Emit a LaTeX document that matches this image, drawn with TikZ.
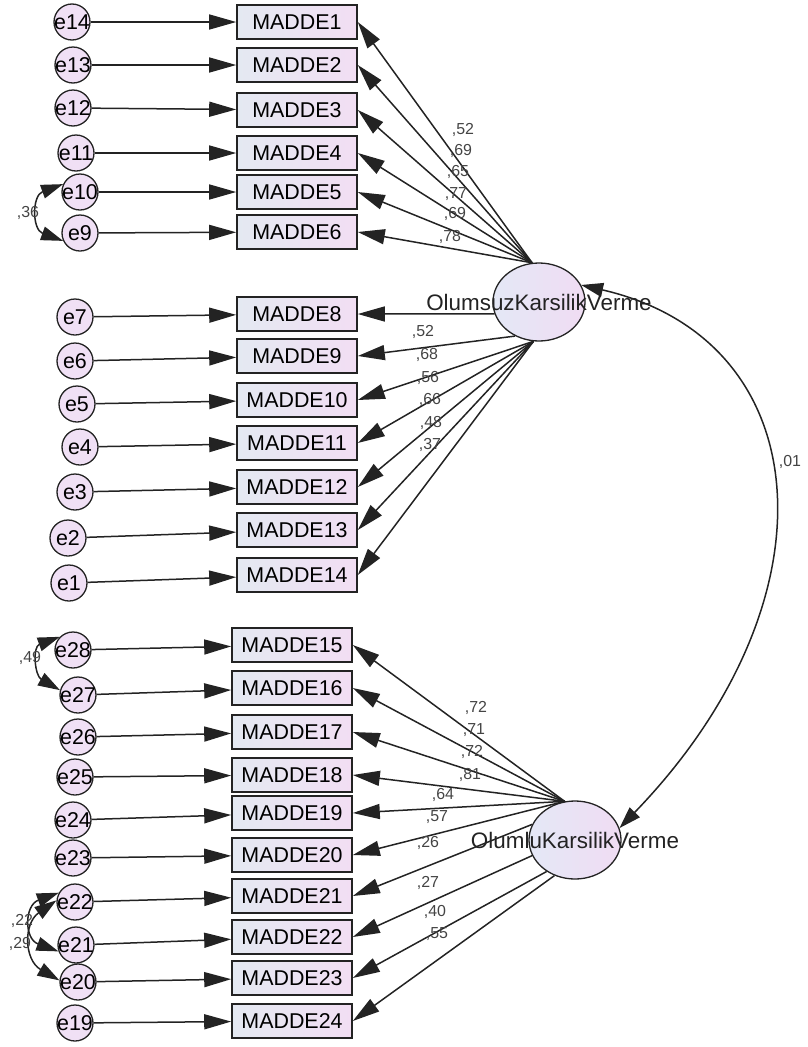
\documentclass[tikz,border=0pt]{standalone}
\usepackage{fontspec}
\setmainfont{Liberation Sans}
\usepackage{xcolor}
\usetikzlibrary{arrows.meta}
\usetikzlibrary{shapes.geometric}
\usetikzlibrary{positioning}

\definecolor{obsL}{RGB}{228,233,242}
\definecolor{obsR}{RGB}{242,222,243}
\definecolor{errC}{RGB}{240,224,245}
\definecolor{latL}{RGB}{228,232,246}
\definecolor{latR}{RGB}{240,220,243}
\definecolor{ink}{RGB}{35,35,35}

\begin{document}
\begin{tikzpicture}[x=1bp,y=-1bp,
    obs/.style={draw=ink,line width=1.6bp,minimum width=120bp,minimum height=34bp,inner sep=0pt,left color=obsL,right color=obsR,font=\fontsize{21.5}{22}\selectfont},
    err/.style={circle,draw=ink,line width=1.3bp,minimum size=36bp,inner sep=-7bp,fill=errC,font=\fontsize{21.5}{22}\selectfont},
    latent/.style={ellipse,draw=ink,line width=1.3bp,minimum width=92bp,minimum height=78bp,inner sep=0pt,left color=latL,right color=latR},
    fac/.style={font=\fontsize{22.5}{23}\selectfont,text=ink},
    load/.style={-{Triangle[length=27bp,width=15bp]},line width=1.5bp,draw=ink},
    cov/.style={{Triangle[length=22bp,width=14bp]}-{Triangle[length=22bp,width=14bp]},line width=1.5bp,draw=ink},
    est/.style={font=\fontsize{16}{17}\selectfont,text=ink!85}]
    \useasboundingbox (0,0) rectangle (808,1047);

    \node[latent] (L1) at (539,302) {};
    \node[latent] (L2) at (575,840) {};

    \node[obs] (M1) at (297,22) {MADDE1};
    \node[obs] (M2) at (297,65) {MADDE2};
    \node[obs] (M3) at (297,110) {MADDE3};
    \node[obs] (M4) at (297,153) {MADDE4};
    \node[obs] (M5) at (297,192) {MADDE5};
    \node[obs] (M6) at (297,232) {MADDE6};

    \node[err] (e14) at (72,22) {e14};
    \node[err] (e13) at (73,65) {e13};
    \node[err] (e12) at (73,108) {e12};
    \node[err] (e11) at (76,153) {e11};
    \node[err] (e10) at (80,192) {e10};
    \node[err] (e9) at (80,233) {e9};

    \node[obs] (M8) at (297,314) {MADDE8};
    \node[obs] (M9) at (297,356) {MADDE9};
    \node[obs] (M10) at (297,400) {MADDE10};
    \node[obs] (M11) at (297,443) {MADDE11};
    \node[obs] (M12) at (297,487) {MADDE12};
    \node[obs] (M13) at (297,530) {MADDE13};
    \node[obs] (M14) at (297,575) {MADDE14};

    \node[err] (e7) at (75,317) {e7};
    \node[err] (e6) at (75,361) {e6};
    \node[err] (e5) at (77,404) {e5};
    \node[err] (e4) at (80,447) {e4};
    \node[err] (e3) at (75,492) {e3};
    \node[err] (e2) at (68,538) {e2};
    \node[err] (e1) at (69,583) {e1};

    \node[obs] (M15) at (292,645) {MADDE15};
    \node[obs] (M16) at (292,688) {MADDE16};
    \node[obs] (M17) at (292,732) {MADDE17};
    \node[obs] (M18) at (292,775) {MADDE18};
    \node[obs] (M19) at (292,813) {MADDE19};
    \node[obs] (M20) at (292,855) {MADDE20};
    \node[obs] (M21) at (292,896) {MADDE21};
    \node[obs] (M22) at (292,937) {MADDE22};
    \node[obs] (M23) at (292,978) {MADDE23};
    \node[obs] (M24) at (292,1021) {MADDE24};

    \node[err] (e28) at (73,650) {e28};
    \node[err] (e27) at (78,695) {e27};
    \node[err] (e26) at (78,737) {e26};
    \node[err] (e25) at (75,777) {e25};
    \node[err] (e24) at (73,820) {e24};
    \node[err] (e23) at (73,858) {e23};
    \node[err] (e22) at (75,902) {e22};
    \node[err] (e21) at (76,945) {e21};
    \node[err] (e20) at (78,982) {e20};
    \node[err] (e19) at (75,1023) {e19};

    \draw[load] (e14) -- (M1);
    \draw[load] (e13) -- (M2);
    \draw[load] (e12) -- (M3);
    \draw[load] (e11) -- (M4);
    \draw[load] (e10) -- (M5);
    \draw[load] (e9) -- (M6);
    \draw[load] (e7) -- (M8);
    \draw[load] (e6) -- (M9);
    \draw[load] (e5) -- (M10);
    \draw[load] (e4) -- (M11);
    \draw[load] (e3) -- (M12);
    \draw[load] (e2) -- (M13);
    \draw[load] (e1) -- (M14);
    \draw[load] (e28) -- (M15);
    \draw[load] (e27) -- (M16);
    \draw[load] (e26) -- (M17);
    \draw[load] (e25) -- (M18);
    \draw[load] (e24) -- (M19);
    \draw[load] (e23) -- (M20);
    \draw[load] (e22) -- (M21);
    \draw[load] (e21) -- (M22);
    \draw[load] (e20) -- (M23);
    \draw[load] (e19) -- (M24);

    \draw[load] (L1.100) -- (M1.east);
    \draw[load] (L1.100) -- (M2.east);
    \draw[load] (L1.100) -- (M3.east);
    \draw[load] (L1.100) -- (M4.east);
    \draw[load] (L1.100) -- (M5.east);
    \draw[load] (L1.100) -- (M6.east);
    \draw[load] (L1.195) -- (M8.east);
    \draw[load] (L1.235) -- (M9.east);
    \draw[load] (L1.262) -- (M10.east);
    \draw[load] (L1.262) -- (M11.east);
    \draw[load] (L1.262) -- (M12.east);
    \draw[load] (L1.262) -- (M13.east);
    \draw[load] (L1.262) -- (M14.east);

    \draw[load] (L2.105) -- (M15.east);
    \draw[load] (L2.105) -- (M16.east);
    \draw[load] (L2.105) -- (M17.east);
    \draw[load] (L2.105) -- (M18.east);
    \draw[load] (L2.105) -- (M19.east);
    \draw[load] (L2.105) -- (M20.east);
    \draw[load] (L2.160) -- (M21.east);
    \draw[load] (L2.200) -- (M22.east);
    \draw[load] (L2.228) -- (M23.east);
    \draw[load] (L2.240) -- (M24.east);

    \draw[cov] (L1.22) .. controls (820,340) and (840,600) .. (L2.15);
    \draw[cov] (e10.155) to[out=200,in=160,looseness=1.5] (e9.205);
    \draw[cov] (e28.135) to[out=200,in=150,looseness=1.4] (e27.165);
    \draw[cov] (e22.150) to[out=200,in=160,looseness=1.6] (e21.200);
    \draw[cov] (e22.175) to[out=215,in=150,looseness=1.3] (e20.175);

    \node[est] (r1) at (463,130) {,52};
    \node[est] (r2) at (461,151) {,69};
    \node[est] (r3) at (458,172) {,65};
    \node[est] (r4) at (456,194) {,77};
    \node[est] (r5) at (455,214) {,69};
    \node[est] (r6) at (450,237) {,78};

    \node[est] (r8) at (423,332) {,52};
    \node[est] (r9) at (427,355) {,68};
    \node[est] (r10) at (428,378) {,56};
    \node[est] (r11) at (430,400) {,66};
    \node[est] (r12) at (431,423) {,48};
    \node[est] (r13) at (430,445) {,37};

    \node[est] (r15) at (476,708) {,72};
    \node[est] (r16) at (474,730) {,71};
    \node[est] (r17) at (472,752) {,72};
    \node[est] (r18) at (470,775) {,81};
    \node[est] (r19) at (443,795) {,64};
    \node[est] (r20) at (437,817) {,57};
    \node[est] (r21) at (428,843) {,26};
    \node[est] (r22) at (428,883) {,27};
    \node[est] (r23) at (435,912) {,40};
    \node[est] (r24) at (437,934) {,55};

    \node[est] (k1) at (790,462) {,01};
    \node[est] (k2) at (28,213) {,36};
    \node[est] (k3) at (30,658) {,49};
    \node[est] (k4) at (22,921) {,22};
    \node[est] (k5) at (20,944) {,29};

    \node[fac] (L1txt) at (L1) {OlumsuzKarsilikVerme};
    \node[fac] (L2txt) at (L2) {OlumluKarsilikVerme};
\end{tikzpicture}
\end{document}
